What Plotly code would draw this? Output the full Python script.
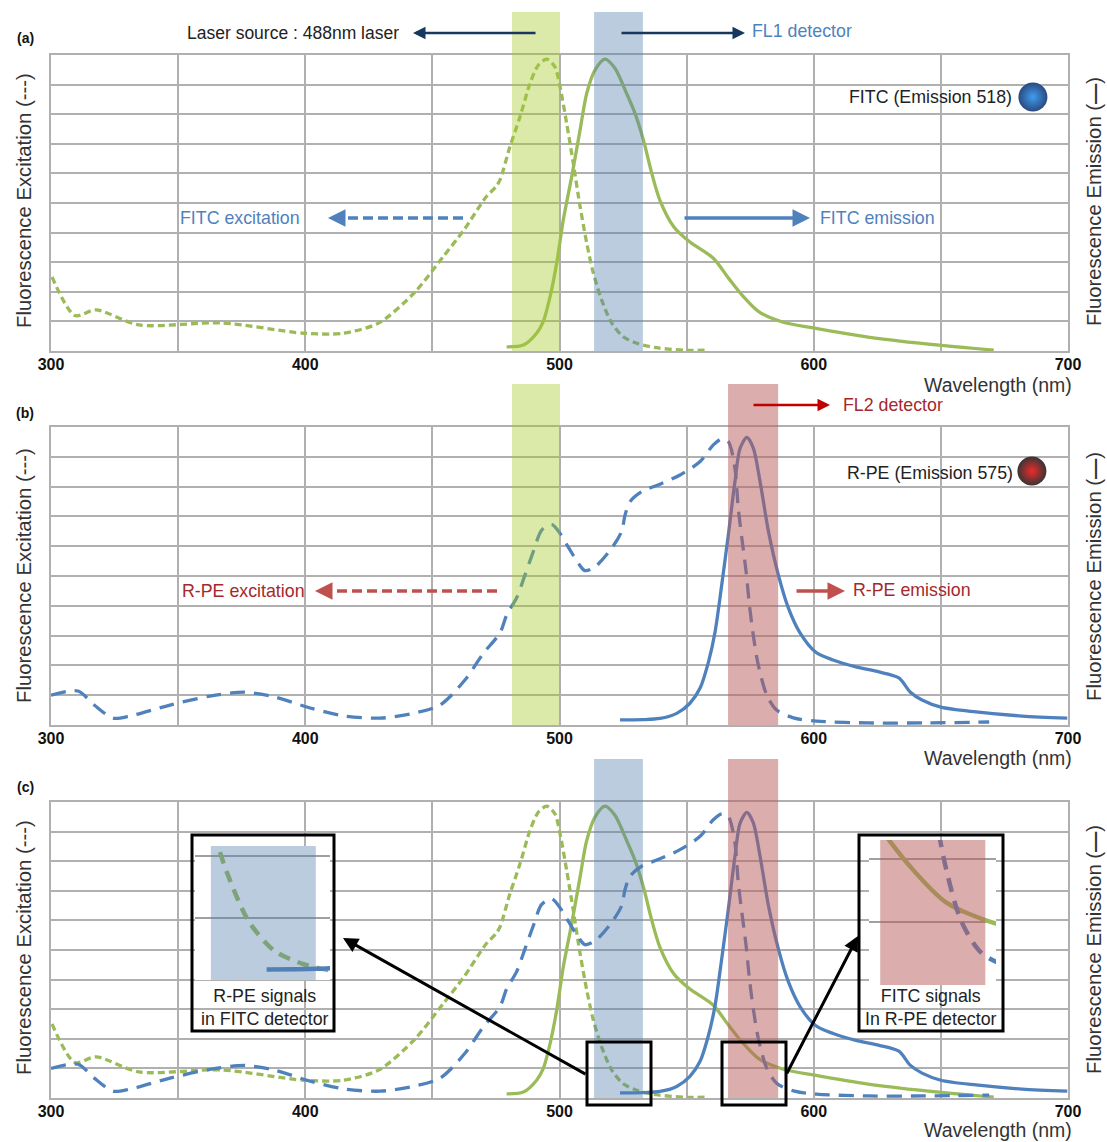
import plotly.graph_objects as go

W, H = 1107, 1142

# ---------- data (wavelength nm, relative intensity 0-10) ----------
fitc_ex_x = [300.4,309.4,317.7,334.6,366.9,399.5,414.8,429,442.8,454.2,462.4,471.1,475,476.6,480.5,484.5,488.4,491.7,495,
             498.2,500.2,502.8,505.4,508.1,510.7,513.3,516.6,520.5,525.1,530.4,538.2,549.8,558]
fitc_ex_y = [2.5,1.2,1.39,.88,.95,.6,.6,.95,1.96,3.18,4.09,5.2,5.55,5.78,6.9,7.92,9.04,9.66,9.86,
             9.6,8.93,7.7,6.35,4.88,3.65,2.63,1.72,.95,.48,.26,.11,.02,.03]
fitc_em_x = [479.2,485.8,491,493.6,496.3,498.9,501.5,504.8,508.1,510.7,514,517.9,521.8,526.4,529.7,533,536.3,539.5,
             545,551.3,560.4,566.4,571.8,578.5,587.7,599.9,621.4,644.2,670.8]
fitc_em_y = [.14,.2,.6,.99,1.84,2.97,4.43,5.89,7.47,8.7,9.5,9.86,9.55,8.7,8.03,7.13,6.0,5.09,
             4.19,3.68,3.14,2.47,1.89,1.32,.98,.78,.47,.24,.03]
rpe_ex_x = [300,310.6,317,324.4,331,346.8,362.5,376.3,388,401.9,415.6,429.4,441.2,453,462.8,470,476.6,479.2,483.1,486.4,
            489.7,493,496.9,500.2,503.4,507.4,510,514,520.5,524.4,525.8,527.7,532.3,539.5,547.4,555.3,560.5,563.8,566.4,
            569,570.3,571.7,573.4,574.7,576.2,578.2,581.5,585.4,592,601.1,621.4,644,669]
rpe_ex_y = [1.0,1.14,.67,.23,.3,.67,.97,1.1,.94,.57,.3,.23,.37,.67,1.51,2.4,3.09,3.69,4.26,5.03,
            5.82,6.54,6.73,6.43,5.98,5.43,5.18,5.31,5.93,6.49,7.05,7.49,7.83,8.08,8.39,8.84,9.4,9.6,9.51,
            8.62,7.28,6.28,5.14,4.03,3.02,2.01,1.01,.5,.24,.13,.07,.07,.1]
rpe_em_x = [523.8,532.8,539.5,546.1,551.3,555.3,558.6,561.2,563.8,566.4,569,571,573.7,576.2,578.9,582.2,586.1,590,594.6,
            600.7,607.6,616.6,625.7,633.5,637.9,642.6,650,663.8,682,699.7]
rpe_em_y = [.17,.18,.22,.39,.73,1.24,2.12,3.13,4.7,6.38,8.16,9.28,9.65,9.3,8.16,6.49,5.03,3.93,3.09,
            2.45,2.18,1.95,1.78,1.58,1.11,.84,.6,.44,.3,.23]

band_laser = [481.3, 500.2]
band_fl1 = [513.6, 532.8]
band_fl2 = [566.3, 586]
x_ticks = [300, 350, 400, 450, 500, 550, 600, 650, 700]
x_tick_labels = ["300", "", "400", "", "500", "", "600", "", "700"]
sphere_fitc = (686.2, 8.58)
sphere_rpe = (685.8, 8.52)

# ---------- styles ----------
GREEN, BLUE, RED = "#9bbb59", "#4f81bd", "#c0504d"
GRID = "#b0b0b0"
FONT = "Liberation Sans"
C_GREEN = "rgba(165,202,40,0.4)"
C_BLUE = "rgba(82,127,172,0.4)"
C_RED = "rgba(185,91,91,0.5)"

def px(x):
    return x / W
def py(y):
    return 1 - y / H

fig = go.Figure()

def line(xs, ys, color, dash, width, ax):
    fig.add_trace(go.Scatter(x=xs, y=ys, mode="lines", xaxis=f"x{ax}", yaxis=f"y{ax}", hoverinfo="skip",
                             line=dict(color=color, width=width, dash=dash, shape="spline", smoothing=0.8)))

G_DASH, B_DASH = "7px,4px", "15px,9px"
# panel a
line(fitc_ex_x, fitc_ex_y, GREEN, G_DASH, 3.3, 1)
line(fitc_em_x, fitc_em_y, GREEN, "solid", 3.3, 1)
# panel b
line(rpe_ex_x, rpe_ex_y, BLUE, B_DASH, 3.3, 2)
line(rpe_em_x, rpe_em_y, BLUE, "solid", 3.3, 2)
# panel c
line(fitc_ex_x, fitc_ex_y, GREEN, G_DASH, 3.3, 3)
line(fitc_em_x, fitc_em_y, GREEN, "solid", 3.3, 3)
line(rpe_ex_x, rpe_ex_y, BLUE, B_DASH, 3.3, 3)
line(rpe_em_x, rpe_em_y, BLUE, "solid", 3.3, 3)
# insets
line(fitc_ex_x, fitc_ex_y, GREEN, "12px,8px", 4.5, 5)
line(rpe_em_x, rpe_em_y, BLUE, "solid", 4.5, 5)
line(fitc_em_x, fitc_em_y, GREEN, "solid", 4.5, 7)
line(rpe_ex_x, rpe_ex_y, BLUE, "14px,9px", 4.5, 7)

# coloured spheres (marker.color is the rim, gradient.color the bright centre)
def sphere(p, centre, edge, ax):
    fig.add_trace(go.Scatter(x=[p[0]], y=[p[1]], mode="markers", xaxis=f"x{ax}", yaxis=f"y{ax}", hoverinfo="skip",
                             marker=dict(size=29, color=edge, line=dict(width=0),
                                         gradient=dict(type="radial", color=centre))))
sphere(sphere_fitc, "#3f9df0", "#2b4a80", 1)
sphere(sphere_rpe, "#ee2b2b", "#3a3434", 2)

# ---------- axes ----------
layout = dict(width=W, height=H, margin=dict(l=0, r=0, t=0, b=0, autoexpand=False), autosize=False,
              paper_bgcolor="white", plot_bgcolor="white", showlegend=False)

panels = [(1, 55, 351), (2, 427, 725), (3, 802, 1098)]
for i, top, bot in panels:
    s = "" if i == 1 else str(i)
    layout[f"xaxis{s}"] = dict(domain=[px(51), px(1068)], range=[300, 700], anchor=f"y{s}", tickvals=x_ticks,
                               ticktext=x_tick_labels, showgrid=True, gridcolor=GRID, gridwidth=1.8,
                               showline=True, linecolor=GRID, linewidth=1.8, mirror=True, zeroline=False,
                               ticks="", ticklabelstandoff=-2,
                               tickfont=dict(family=FONT, size=16, color="#111", weight=700), fixedrange=True)
    layout[f"yaxis{s}"] = dict(domain=[py(bot), py(top)], range=[0, 10], anchor=f"x{s}", dtick=1, showticklabels=False,
                               showgrid=True, gridcolor=GRID, gridwidth=1.8, showline=True, linecolor=GRID,
                               linewidth=1.8, mirror=True, zeroline=False, ticks="", fixedrange=True)

hidden = dict(showgrid=False, showticklabels=False, zeroline=False, showline=False, ticks="", fixedrange=True)
# white frames of the two insets
for i, (l, r, t, b) in {4: (192, 334, 835, 1031), 6: (859, 1003, 835, 1031)}.items():
    layout[f"xaxis{i}"] = dict(hidden, domain=[px(l), px(r)], range=[0, 1], anchor=f"y{i}")
    layout[f"yaxis{i}"] = dict(hidden, domain=[py(b), py(t)], range=[0, 1], anchor=f"x{i}")
# zoomed-in views
for i, (l, r, t, b, xr, yr) in {5: (195, 330, 846, 980, [510.7, 535.4], [0, 2.16]),
                                7: (869, 996, 840, 985, [564.2, 588], [0, 2.3])}.items():
    layout[f"xaxis{i}"] = dict(hidden, domain=[px(l), px(r)], range=xr, anchor=f"y{i}")
    layout[f"yaxis{i}"] = dict(domain=[py(b), py(t)], range=yr, anchor=f"x{i}", dtick=1, showticklabels=False,
                               showgrid=True, gridcolor="#a0a0a0", gridwidth=1.5, zeroline=False, showline=False,
                               ticks="", fixedrange=True)
fig.update_layout(**layout)

# ---------- bands & frames ----------
def band(b, fill, top, bot, ax):
    xref = "x" if ax == 1 else f"x{ax}"
    fig.add_shape(type="rect", xref=xref, yref="paper", x0=b[0], x1=b[1], y0=py(bot), y1=py(top),
                  fillcolor=fill, line_width=0, layer="above")

band(band_laser, C_GREEN, 12, 351, 1)
band(band_fl1, C_BLUE, 12, 351, 1)
band(band_laser, C_GREEN, 384, 725, 2)
band(band_fl2, C_RED, 384, 725, 2)
band(band_fl1, C_BLUE, 759, 1098, 3)
band(band_fl2, C_RED, 759, 1098, 3)
band(band_fl1, C_BLUE, 846, 980, 5)
band(band_fl2, C_RED, 840, 985, 7)

def frame(l, r, t, b):
    fig.add_shape(type="rect", xref="paper", yref="paper", x0=px(l), x1=px(r), y0=py(b), y1=py(t),
                  line=dict(color="black", width=3), fillcolor="rgba(0,0,0,0)", layer="above")
frame(192, 334, 835, 1031)
frame(859, 1003, 835, 1031)
frame(587, 651, 1042, 1105)
frame(722, 786, 1042, 1105)

# ---------- text ----------
def text(s, x, y, size=16, color="#333333", bold=False, angle=0):
    fig.add_annotation(text=f"<b>{s}</b>" if bold else s, xref="paper", yref="paper", x=px(x), y=py(y),
                       showarrow=False, xanchor="center", yanchor="middle", textangle=angle,
                       font=dict(family=FONT, size=size, color=color))

LBL = 17.8
for lab, y in [("(a)", 38), ("(b)", 413), ("(c)", 787)]:
    text(lab, 25, y, 14, "#111", True)
for y in [385, 758, 1130]:
    text("Wavelength (nm)", 998, y, 19.5, "#333")
for y in [201, 576, 948]:
    text("Fluorescence Excitation (---)", 24, y, 20.3, "#333", angle=-90)
for y in [202, 577, 950]:
    text("Fluorescence Emission (<b>—</b>)", 1094, y, 20.3, "#333", angle=-90)

TXT_BLUE, TXT_RED = "#4f81bd", "#a5282c"
text("Laser source : 488nm laser", 293, 33, 17.5, "#222")
text("FL1 detector", 802, 31, LBL, TXT_BLUE)
text("FITC excitation", 240, 218, LBL, TXT_BLUE)
text("FITC emission", 878, 218, LBL, TXT_BLUE)
text("FITC (Emission 518)", 930, 97, LBL, "#222")
text("FL2 detector", 893, 405, LBL, TXT_RED)
text("R-PE excitation", 244, 591, LBL, TXT_RED)
text("R-PE emission", 912, 590, LBL, TXT_RED)
text("R-PE (Emission 575)", 930, 473, LBL, "#222")
text("R-PE signals<br>in FITC detector", 265, 1007, LBL, "#222")
text("FITC signals<br>In R-PE detector", 931, 1007, LBL, "#222")

# ---------- arrows ----------
def arrow(x0, y0, x1, y1, color, width=2.5, head=2, size=1):
    fig.add_annotation(text="", xref="paper", yref="paper", x=px(x1), y=py(y1), ax=x0 - x1, ay=y0 - y1,
                       axref="pixel", ayref="pixel", showarrow=True, arrowhead=head, arrowsize=size,
                       arrowwidth=width, arrowcolor=color, standoff=0, startstandoff=0)

def dashed_arrow(x0, x1, y, color):
    fig.add_shape(type="line", xref="paper", yref="paper", x0=px(x0), x1=px(x1 + 8), y0=py(y), y1=py(y),
                  line=dict(color=color, width=3.5, dash="10px,5px"), layer="above")
    arrow(x1 + 14, y, x1, y, color, 3.5, 2, 1)

NAVY = "#17375e"
arrow(537, 33, 413, 33, NAVY, 2.5)
arrow(620, 33, 745, 33, NAVY, 2.5)
arrow(683, 218, 810, 218, BLUE, 3.5)
dashed_arrow(463, 328, 218, BLUE)
arrow(752, 405, 830, 405, "#c00000", 2.5)
arrow(795, 591, 845, 591, RED, 3.5)
dashed_arrow(497, 315, 591, RED)
arrow(587, 1075, 343, 938, "black", 3)
arrow(786, 1075, 858, 936, "black", 3)

fig.write_html("out.html", post_script="document.body.style.margin='0';", config=dict(displayModeBar=False))
